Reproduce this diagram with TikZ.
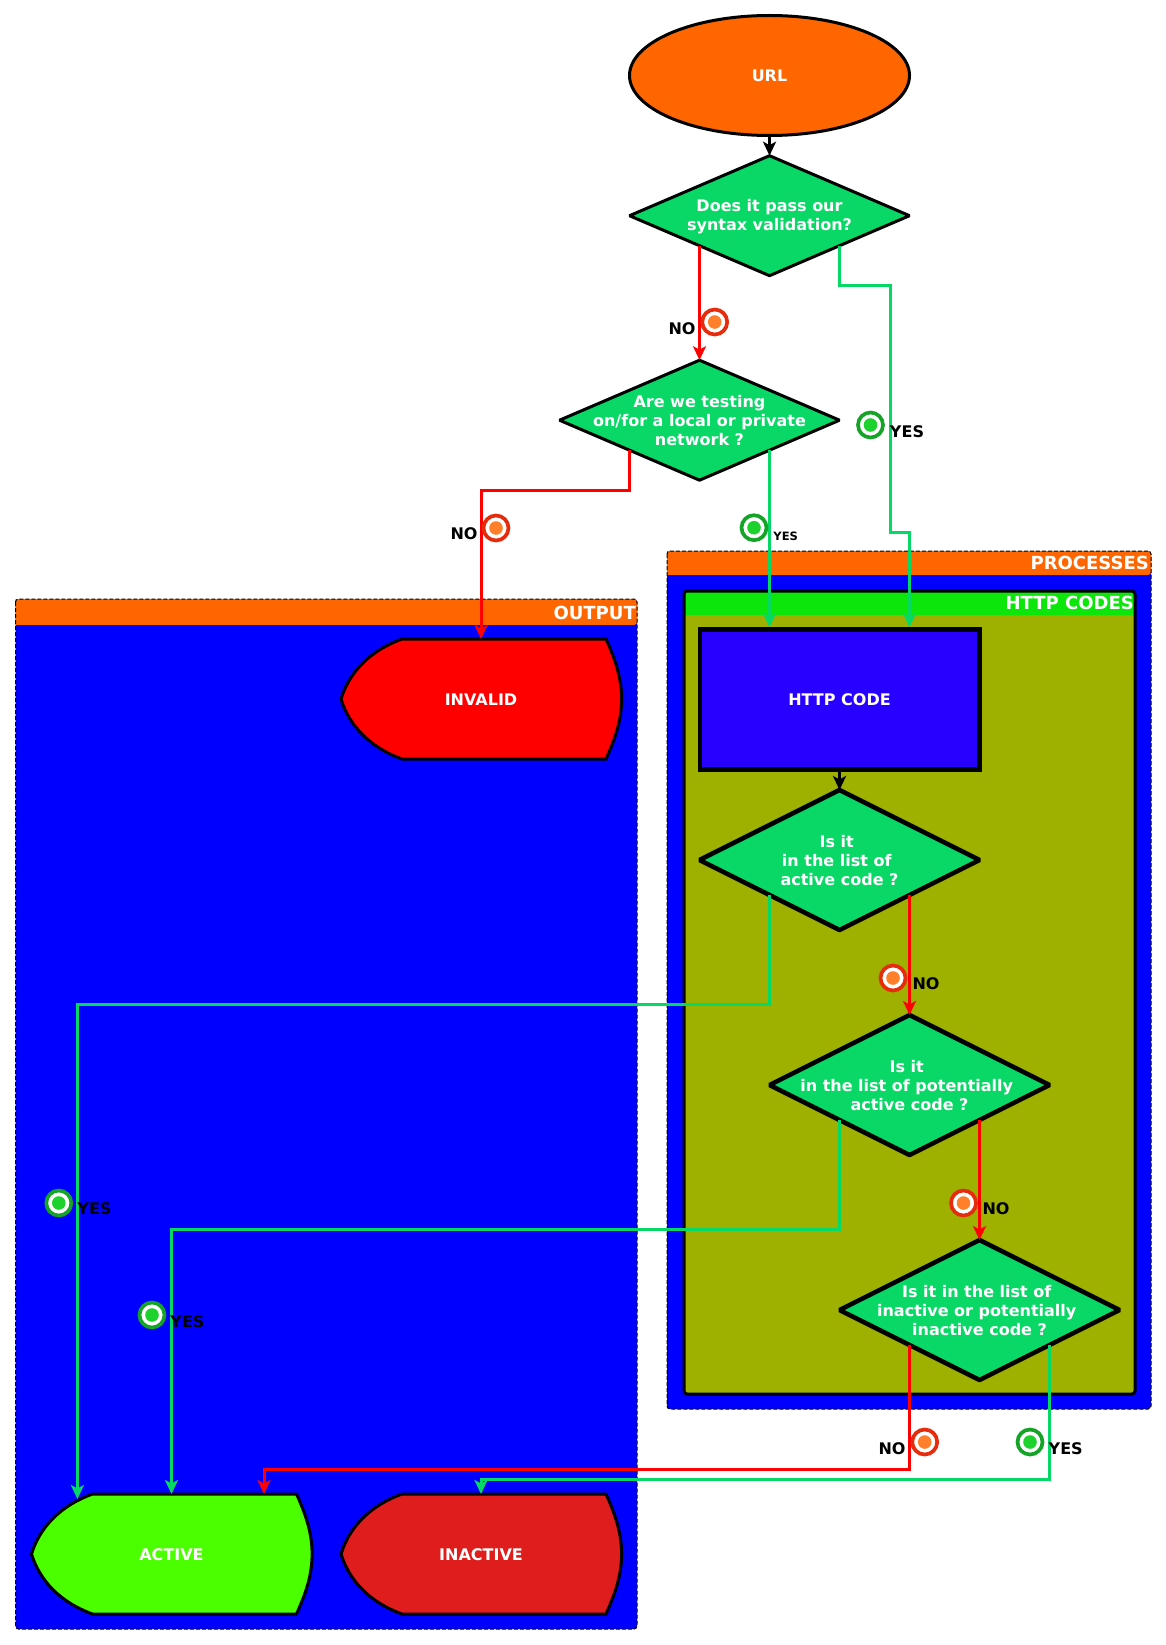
\documentclass[tikz,border=0pt]{standalone}
\usepackage{fontspec}
\setmainfont{DejaVu Sans}
\usetikzlibrary{shapes.geometric,arrows.meta,calc}
\definecolor{corange}{HTML}{FF6600}
\definecolor{cblue}{HTML}{0000FF}
\definecolor{cdec}{HTML}{09D866}
\definecolor{colive}{HTML}{9EB000}
\definecolor{chead}{HTML}{0DE60A}
\definecolor{chttp}{HTML}{2800FF}
\definecolor{cinv}{HTML}{FF0000}
\definecolor{cact}{HTML}{4CFF00}
\definecolor{cina}{HTML}{DF1D1D}
\definecolor{cyes}{HTML}{06D866}
\definecolor{ringno}{HTML}{E62C0C}
\definecolor{dotno}{HTML}{FF7F2A}
\definecolor{ringyes}{HTML}{16A428}
\definecolor{dotyes}{HTML}{1ED22E}
\tikzset{
  lab/.style={font=\fontsize{16}{19}\selectfont\bfseries,text=white,align=center,inner sep=0pt},
  hlab/.style={font=\fontsize{18}{21}\selectfont\bfseries,text=white,inner sep=0pt,anchor=east},
  blab/.style={font=\fontsize{16}{19}\selectfont\bfseries,text=black,inner sep=0pt},
  slab/.style={font=\fontsize{11.5}{14}\selectfont\bfseries,text=black,inner sep=0pt},
  decn/.style={diamond,draw=black,fill=cdec,minimum width=280pt,minimum height=120pt,inner sep=0pt,outer sep=0pt,aspect=2.33,line width=3pt,line join=bevel},
  decb/.style={line width=4.5pt,minimum width=280pt,minimum height=140pt,aspect=2},
  conn/.style={line width=3pt,-{Stealth[length=14pt,width=13pt,inset=3.5pt]}},
  cno/.style={conn,draw=cinv},
  cyesl/.style={conn,draw=cyes},
  cblk/.style={conn,draw=black},
  lanebox/.style={rectangle,inner sep=0pt,outer sep=0pt,anchor=north west},
  outs/.style={draw=black,line width=3pt,line join=miter},
}
\newcommand\decis[4]{\node[decn,#3](#1) at (#2){};\node[lab](#1t) at ($(#1.center)+(0,0.8)$){#4};}
\newcommand\tsp{\mbox{\hspace{5.6pt}}}
% output shape centred on the named node; its tip-to-tip width is 281, height 120
\newcommand\outn[4]{%
  \begin{scope}[shift={(#2)}]
    \draw[outs,fill=#3] (-79,-60) -- (125,-60) .. controls (135,-38) and (140.6,-20) .. (140.6,0)
      .. controls (140.6,20) and (135,38) .. (125,60) -- (-79,60)
      .. controls (-112,48) and (-132,26) .. (-140,0)
      .. controls (-132,-26) and (-112,-48) .. (-79,-60) -- cycle;
  \end{scope}
  \node[minimum width=281pt,minimum height=120pt,inner sep=0pt,outer sep=0pt](#1) at (#2){};
  \node[lab](#1t) at ($(#1.center)+(0,1)$){#4};}
\newcommand\badge[4]{\node[circle,draw=#3,fill=white,line width=3.7pt,minimum size=25pt,inner sep=0pt,
  path picture={\fill[#4] (path picture bounding box.center) circle (6.8pt);}](#1) at (#2){};}
\begin{document}
\begin{tikzpicture}[x=1pt,y=-1pt]
\useasboundingbox (0,0) rectangle (1166,1645);
% OUTPUT lane
\node[lanebox,minimum width=621.5pt,minimum height=1030pt](outl) at (15.5,599){};
\fill[cblue,rounded corners=3pt] (outl.north west) rectangle (outl.south east);
\fill[corange,rounded corners=3pt] (outl.north west) -- (outl.north east) -- ++(0,26) [sharp corners] -- ($(outl.north west)+(0,26)$) -- cycle;
\draw[black,dashed,line width=1pt,dash pattern=on 4pt off 2pt,rounded corners=3pt] (outl.north west) rectangle (outl.south east);
\node[hlab](outh) at (636,612.7){OUTPUT};
% PROCESSES lane
\node[lanebox,minimum width=484pt,minimum height=858pt](prol) at (667,551){};
\fill[cblue,rounded corners=3pt] (prol.north west) rectangle (prol.south east);
\fill[corange,rounded corners=3pt] (prol.north west) -- (prol.north east) -- ++(0,24) [sharp corners] -- ($(prol.north west)+(0,24)$) -- cycle;
\draw[black,dashed,line width=1pt,dash pattern=on 4pt off 2pt,rounded corners=3pt] (prol.north west) rectangle (prol.south east);
\node[hlab](proh) at (1149,562.7){PROCESSES};
% HTTP CODES group
\node[lanebox,minimum width=451pt,minimum height=803pt](grp) at (684,591){};
\fill[colive,rounded corners=3pt] (grp.north west) rectangle (grp.south east);
\fill[chead,rounded corners=3pt] (grp.north west) -- (grp.north east) -- ++(0,24) [sharp corners] -- ($(grp.north west)+(0,24)$) -- cycle;
\draw[black,line width=3pt,rounded corners=3pt] (grp.north west) rectangle (grp.south east);
\node[hlab](grph) at (1134,603){HTTP CODES};
% shapes
\node[ellipse,draw=black,fill=corange,line width=3pt,minimum width=280pt,minimum height=120pt,inner sep=0pt,outer sep=0pt](url) at (769.5,75.5){};
\node[lab](urlt) at (url.center){URL};
\decis{da}{769.5,215.7}{}{Does it pass our\\syntax validation?}
\decis{db}{699.5,420.2}{}{Are we testing\\on/for a local or private\\network ?}
\node[rectangle,draw=black,fill=chttp,line width=4.5pt,minimum width=279.5pt,minimum height=140pt,inner sep=0pt,outer sep=2.25pt](http) at (839.5,699.5){};
\node[lab](httpt) at (http.center){HTTP CODE};
\decis{dc}{839.5,860}{decb}{Is it\tsp\\in the list of\tsp\\active code ?}
\decis{dd}{909.5,1085}{decb}{Is it\tsp\\in the list of potentially\tsp\\active code ?}
\decis{de}{979.5,1310}{decb}{Is it in the list of\tsp\\inactive or potentially\tsp\\inactive code ?}
\outn{inv}{481,699}{cinv}{INVALID}
\outn{act}{171.5,1554}{cact}{ACTIVE}
\outn{ina}{481,1554}{cina}{INACTIVE}
% way points
\coordinate (wa) at (890,285);
\coordinate (wb) at (890,532);
\coordinate (wd) at (481,490);
\coordinate (we) at (77.4,1004);
\coordinate (wf) at (171.5,1229.5);
\coordinate (wh) at (264,1469);
\coordinate (wj) at (481,1479);
\coordinate (actl) at (77.4,1499);
% connectors
\draw[cblk] (url.south) -- (da.north);
\draw[cno] (da.south west) -- (db.north);
\draw[cyesl] (da.south east) |- (wa) -- (wb) -| ($(http.north)+(70,0)$);
\draw[cno] (db.south west) |- (wd) -- (inv.north);
\draw[cyesl] (db.south east) -- ($(http.north)+(-70,0)$);
\draw[cblk] (http.south) -- (dc.north);
\draw[cno] (dc.south east) -- (dd.north);
\draw[cyesl] (dc.south west) |- (we) -- (actl);
\draw[cno] (dd.south east) -- (de.north);
\draw[cyesl] (dd.south west) |- (wf) -- (act.north);
\draw[cno] (de.south west) |- (wh) -- (act.north -| wh);
\draw[cyesl] (de.south east) |- (wj) -- (ina.north);
% badges and labels
\badge{ba}{714.7,322}{ringno}{dotno}\node[blab](la) at (682,329){NO};
\badge{bb}{870.5,425}{ringyes}{dotyes}\node[blab](lb) at (907,432){YES};
\badge{bc}{496,528}{ringno}{dotno}\node[blab](lc) at (464,534){NO};
\badge{bd}{754,527.7}{ringyes}{dotyes}\node[slab](ld) at (785.7,536){YES};
\badge{be}{893,978}{ringno}{dotno}\node[blab](le) at (926,984){NO};
\badge{bf}{963.5,1203}{ringno}{dotno}\node[blab](lf) at (996,1209){NO};
\badge{bg}{58.8,1203}{ringyes}{dotyes}\node[blab](lg) at (94.5,1209){YES};
\badge{bh}{152,1315}{ringyes}{dotyes}\node[blab](lh) at (187.5,1322){YES};
\badge{bi}{924.7,1442}{ringno}{dotno}\node[blab](li) at (892,1448.5){NO};
\badge{bj}{1030,1442}{ringyes}{dotyes}\node[blab](lj) at (1065.7,1448.5){YES};
\end{tikzpicture}
\end{document}
